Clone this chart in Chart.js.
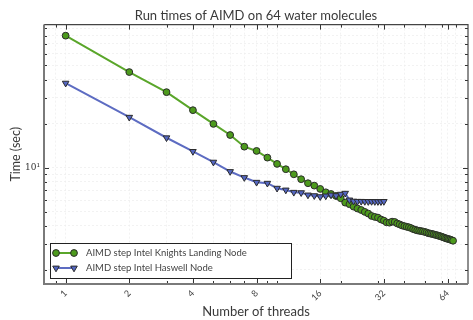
<!DOCTYPE html>
<html>
<head>
<meta charset="utf-8">
<script src="https://cdn.jsdelivr.net/npm/chart.js@4.4.1/dist/chart.umd.min.js"></script>
<style>
  html, body { margin: 0; padding: 0; background: #fff; }
  #wrap { width: 473px; height: 320px; }
</style>
</head>
<body>
<div id="wrap"><canvas id="myChart" width="473" height="320"></canvas></div>
<script>
// threads and run times (sec)
const knlThreads = [1, 2, 3, 4, 5, 6, 7, 8, 9, 10, 11, 12, 13, 14, 15, 16, 17, 18, 19, 20,
  21, 22, 23, 24, 25, 26, 27, 28, 29, 30, 31, 32, 33, 34, 35, 36, 37, 38, 39, 40,
  41, 42, 43, 44, 45, 46, 47, 48, 49, 50, 51, 52, 53, 54, 55, 56, 57, 58, 59, 60,
  61, 62, 63, 64, 65, 66, 67, 68];
const knlTimes = [79.8, 45.0, 32.8, 24.7, 19.9, 16.7, 13.9, 13.0, 11.7, 10.6,
  9.75, 9.0, 8.33, 7.82, 7.53, 7.15, 6.78, 6.6, 6.4, 6.17,
  5.76, 5.62, 5.41, 5.25, 5.13, 4.98, 4.85, 4.67, 4.6, 4.55,
  4.42, 4.34, 4.22, 4.2, 4.27, 4.25, 4.15, 4.09, 4.02, 3.98,
  3.94, 3.91, 3.86, 3.8, 3.76, 3.72, 3.7, 3.68, 3.66, 3.63,
  3.6, 3.56, 3.54, 3.52, 3.5, 3.47, 3.45, 3.42, 3.4, 3.37,
  3.34, 3.31, 3.28, 3.26, 3.24, 3.22, 3.19, 3.16];

const hswThreads = [1, 2, 3, 4, 5, 6, 7, 8, 9, 10, 11, 12, 13, 14, 15, 16,
  17, 18, 19, 20, 21, 22, 23, 24, 25, 26, 27, 28, 29, 30, 31, 32];
const hswTimes = [37.8, 22.1, 16.0, 12.9, 10.9, 9.4, 8.55, 7.94, 7.82, 7.23, 7.03, 6.78, 6.74, 6.5, 6.43, 6.33,
  6.4, 6.5, 6.43, 6.58, 6.68, 6.01, 5.9, 5.88, 5.88, 5.87, 5.86, 5.87, 5.86, 5.86, 5.85, 5.87];

const labels = ['AIMD step Intel Knights Landing Node', 'AIMD step Intel Haswell Node'];

const xLabelTicks = [1, 2, 4, 8, 16, 32, 64];
const xMinorTicks = [0.9, 3, 5, 6, 7, 9, 10, 20, 30, 40, 50, 60, 70];
const yLabelTicks = [10];
const yMinorTicks = [2, 3, 4, 5, 6, 7, 8, 9, 20, 30, 40, 50, 60, 70, 80, 90];

const green = '#5aa62a', greenFill = '#4c9a1c';
const blue = '#5d6cc2', blueFill = '#5467c2';
const edge = '#2b2b2b';
const sans = 'Lato, "DejaVu Sans", sans-serif';

const toPoints = (xs, ys) => xs.map((x, i) => ({ x: x, y: ys[i] }));
const allX = xLabelTicks.concat(xMinorTicks).sort((a, b) => a - b);
const allY = yLabelTicks.concat(yMinorTicks).sort((a, b) => a - b);

// inward ticks on all four sides + frame
const framePlugin = {
  id: 'frame',
  afterDatasetsDraw(chart) {
    const { ctx, chartArea: a, scales: { x, y } } = chart;
    ctx.save();
    ctx.strokeStyle = '#333';
    ctx.lineWidth = 1;
    allX.forEach(v => {
      const px = Math.round(x.getPixelForValue(v)) + 0.5;
      const len = xLabelTicks.includes(v) ? 5 : 3;
      ctx.beginPath();
      ctx.moveTo(px, a.bottom); ctx.lineTo(px, a.bottom - len);
      ctx.moveTo(px, a.top); ctx.lineTo(px, a.top + len);
      ctx.stroke();
    });
    allY.forEach(v => {
      const py = Math.round(y.getPixelForValue(v)) + 0.5;
      const len = yLabelTicks.includes(v) ? 5 : 3;
      ctx.beginPath();
      ctx.moveTo(a.left, py); ctx.lineTo(a.left + len, py);
      ctx.moveTo(a.right, py); ctx.lineTo(a.right - len, py);
      ctx.stroke();
    });
    ctx.lineWidth = 1.2;
    ctx.strokeStyle = '#444';
    ctx.beginPath();
    ctx.moveTo(a.left, a.top); ctx.lineTo(a.right, a.top); ctx.lineTo(a.right, a.bottom);
    ctx.stroke();
    ctx.lineWidth = 2;
    ctx.strokeStyle = '#7a7a7a';
    ctx.beginPath();
    ctx.moveTo(a.left, a.top); ctx.lineTo(a.left, a.bottom); ctx.lineTo(a.right, a.bottom);
    ctx.stroke();
    ctx.restore();
  }
};

// legend box in lower left of the plot
const legendPlugin = {
  id: 'boxLegend',
  afterDraw(chart) {
    const { ctx, chartArea: a } = chart;
    const bx = a.left + 6, by = a.bottom - 41, bw = 241, bh = 35;
    ctx.save();
    ctx.fillStyle = '#fff';
    ctx.fillRect(bx, by, bw, bh);
    ctx.strokeStyle = '#222';
    ctx.lineWidth = 1;
    ctx.strokeRect(bx + 0.5, by + 0.5, bw, bh);
    chart.data.datasets.forEach((ds, i) => {
      const cy = by + 10 + i * 15;
      const x0 = bx + 6, x1 = bx + 24;
      ctx.strokeStyle = ds.borderColor;
      ctx.lineWidth = ds.borderWidth;
      ctx.beginPath(); ctx.moveTo(x0, cy); ctx.lineTo(x1, cy); ctx.stroke();
      [x0, x1].forEach(px => {
        ctx.fillStyle = ds.pointBackgroundColor;
        ctx.strokeStyle = ds.pointBorderColor;
        ctx.lineWidth = 1;
        Chart.helpers.drawPoint(ctx, {
          pointStyle: ds.pointStyle, rotation: ds.pointRotation || 0,
          radius: ds.pointRadius, borderWidth: 1
        }, px, cy);
      });
      ctx.fillStyle = '#444';
      ctx.font = '9.5px ' + sans;
      ctx.textBaseline = 'middle';
      ctx.fillText(ds.label, bx + 36, cy);
    });
    ctx.restore();
  }
};

new Chart(document.getElementById('myChart'), {
  type: 'line',
  data: {
    datasets: [{
      label: labels[0],
      data: toPoints(knlThreads, knlTimes),
      borderColor: green,
      borderWidth: 2,
      pointStyle: 'circle',
      pointRadius: 3.4,
      pointBackgroundColor: greenFill,
      pointBorderColor: edge,
      pointBorderWidth: 1,
      order: 1
    }, {
      label: labels[1],
      data: toPoints(hswThreads, hswTimes),
      borderColor: blue,
      borderWidth: 2,
      pointStyle: 'triangle',
      pointRotation: 180,
      pointRadius: 3.8,
      pointBackgroundColor: blueFill,
      pointBorderColor: edge,
      pointBorderWidth: 1,
      order: 0
    }]
  },
  options: {
    responsive: false,
    animation: false,
    devicePixelRatio: 1,
    layout: { padding: { left: 0, right: 1, top: 0, bottom: 0 } },
    plugins: {
      legend: { display: false },
      tooltip: { enabled: false },
      title: {
        display: true,
        fullSize: false,
        text: 'Run times of AIMD on 64 water molecules',
        color: '#3a3a3a',
        font: { family: sans, size: 13, weight: 'normal' },
        padding: { top: 8, bottom: 1 }
      }
    },
    scales: {
      x: {
        type: 'logarithmic',
        min: 0.79,
        max: 80,
        afterBuildTicks: s => { s.ticks = allX.map(v => ({ value: v })); },
        afterFit: s => { s.height = 36; },
        grid: { color: '#efefef', lineWidth: 0.8, drawTicks: false },
        border: { display: false, dash: [2, 2] },
        ticks: {
          autoSkip: false,
          minRotation: 45,
          maxRotation: 45,
          padding: 4,
          color: '#444',
          font: { family: sans, size: 9 },
          callback: v => xLabelTicks.includes(v) ? String(v) : ''
        },
        title: {
          display: true,
          text: 'Number of threads',
          color: '#3a3a3a',
          font: { family: sans, size: 13 },
          padding: { top: 0, bottom: 0 }
        }
      },
      y: {
        type: 'logarithmic',
        min: 1.6,
        max: 95,
        afterBuildTicks: s => { s.ticks = allY.map(v => ({ value: v })); },
        afterFit: s => { s.width = 44; },
        grid: { color: '#efefef', lineWidth: 0.8, drawTicks: false },
        border: { display: false, dash: [2, 2] },
        ticks: {
          autoSkip: false,
          padding: 4,
          color: '#333',
          font: { family: '"DejaVu Serif", serif', size: 9 },
          callback: v => yLabelTicks.includes(v) ? '10\u00b9' : ''
        },
        title: {
          display: true,
          text: 'Time (sec)',
          color: '#3a3a3a',
          font: { family: sans, size: 12.5 },
          padding: { top: 8, bottom: 0 }
        }
      }
    }
  },
  plugins: [framePlugin, legendPlugin]
});
</script>
</body>
</html>
